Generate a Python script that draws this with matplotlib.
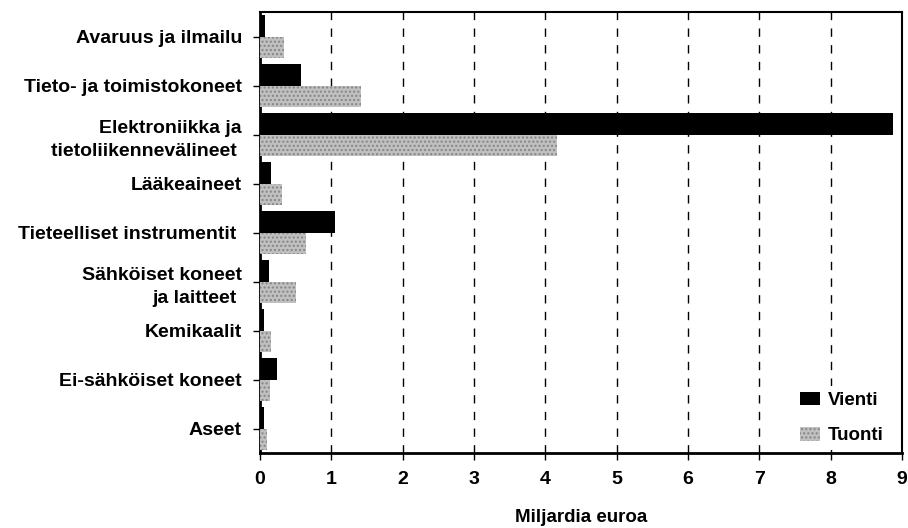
import matplotlib

matplotlib.use("Agg")

import matplotlib.pyplot as plt
import numpy as np

categories = [
    "Avaruus ja ilmailu",
    "Tieto- ja toimistokoneet",
    "Elektroniikka ja\ntietoliikennevälineet ",
    "Lääkeaineet",
    "Tieteelliset instrumentit ",
    "Sähköiset koneet\nja laitteet ",
    "Kemikaalit",
    "Ei-sähköiset koneet",
    "Aseet",
]
vienti = [0.07, 0.57, 8.88, 0.15, 1.05, 0.12, 0.05, 0.24, 0.05]
tuonti = [0.33, 1.42, 4.17, 0.31, 0.64, 0.51, 0.16, 0.14, 0.10]
xticks = list(range(0, 10))

plt.rcParams["font.family"] = ["Liberation Sans", "DejaVu Sans"]
plt.rcParams["font.weight"] = "bold"
plt.rcParams["hatch.linewidth"] = 1.0

fig = plt.figure(figsize=(9.08, 5.28), dpi=100)
ax = fig.add_axes([0.2863, 0.142, 0.7071, 0.835])

y = np.arange(len(categories))
h = 0.44
ax.barh(y - h / 2, vienti, height=h, color="black", label="Vienti", zorder=3)
ax.barh(y + h / 2, tuonti, height=h, facecolor="#c0c0c0", edgecolor="#858585",
        hatch="....", linewidth=0, label="Tuonti", zorder=3)

ax.set_xlim(0, 9)
ax.set_ylim(len(categories) - 0.5, -0.5)
ax.set_xticks(xticks)
ax.set_xticklabels([str(t) for t in xticks], fontsize=14, fontweight="bold")
ax.set_yticks(y)
ax.set_yticklabels(categories, fontsize=14, fontweight="bold", ha="right",
                   multialignment="right", linespacing=1.5)
ax.tick_params(axis="both", direction="out", length=5, width=1, color="black")
ax.tick_params(axis="x", pad=8)
ax.tick_params(axis="y", pad=8)

for xv in xticks[1:-1]:
    ax.axvline(xv, color="black", ls=(0, (6, 6)), lw=1, zorder=1)

for side in ["left", "bottom"]:
    ax.spines[side].set_linewidth(2)
for side in ["top", "right"]:
    ax.spines[side].set_linewidth(1.5)

ax.set_xlabel("Miljardia euroa", fontsize=13.5, fontweight="bold", labelpad=15)

leg = ax.legend(loc="lower right", frameon=True, fontsize=13.5, handlelength=1.1,
                handleheight=0.75, handletextpad=0.4, labelspacing=0.95,
                borderpad=0.3, bbox_to_anchor=(0.995, -0.014), fancybox=False)
leg.get_frame().set_facecolor("white")
leg.get_frame().set_edgecolor("none")
leg.get_frame().set_alpha(1.0)
leg.set_zorder(5)
for t in leg.get_texts():
    t.set_fontweight("bold")

fig.savefig("out.png", dpi=100)
